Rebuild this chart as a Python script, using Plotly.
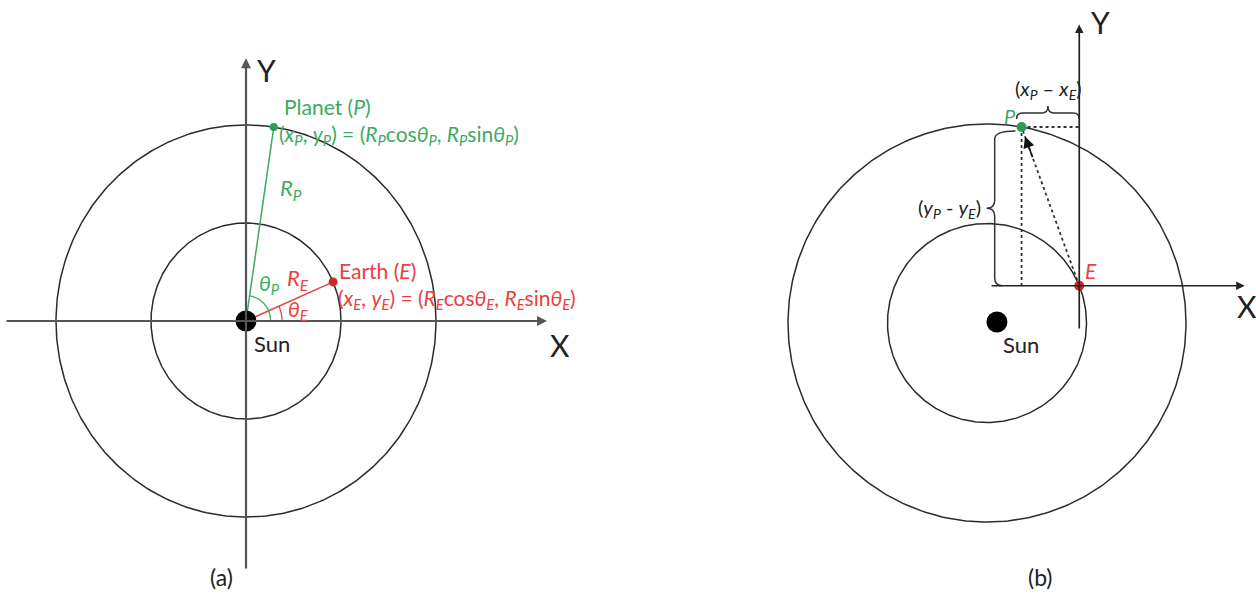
import numpy as np
import plotly.graph_objects as go

W, H = 1256, 597

# Orbit radii (Earth orbit = 1 unit)
R_E = 1.0
R_P = 2.0

# Panel (a): heliocentric angles in degrees
theta_E_a = 23.5
theta_P_a = 81.6

# Panel (b): heliocentric angles in degrees, Sun position
theta_E_b = 22.0
theta_P_b = 80.0
sun_b = (0.1, 0.01)

axis_names = ["X", "Y"]
panel_names = ["(a)", "(b)"]

GREEN = "#3daa63"
GREEN_DOT = "#2e9b57"
RED = "#e8413f"
RED_DOT = "#d2262b"
AXIS_GREY = "#555555"
INK = "#222222"
FONT = "Lato"

# Pixel frames of the two panels: origin pixel and pixels per unit
A = dict(ox=246, oy=321, kx=95.0, ky=98.0, px0=0, px1=620)
B = dict(ox=987, oy=323, kx=99.5, ky=99.5, px0=620, px1=W)


def ranges(f):
    xr = [(f["px0"] - f["ox"]) / f["kx"], (f["px1"] - f["ox"]) / f["kx"]]
    yr = [(f["oy"] - H) / f["ky"], f["oy"] / f["ky"]]
    return xr, yr


def polar(r, deg):
    t = np.radians(deg)
    return r * np.cos(t), r * np.sin(t)


def circle(r, n=361, cx=0.0, cy=0.0):
    t = np.linspace(0, 2 * np.pi, n)
    return cx + r * np.cos(t), cy + r * np.sin(t)


def arc(r, deg0, deg1, n=60):
    t = np.radians(np.linspace(deg0, deg1, n))
    return r * np.cos(t), r * np.sin(t)


def px(x):
    return x / W


def py(y):
    return 1 - y / H


fig = go.Figure()


def line(x, y, xa, ya, color, width=1.3, dash="solid"):
    fig.add_trace(go.Scatter(x=list(x), y=list(y), xaxis=xa, yaxis=ya, mode="lines",
                             line=dict(color=color, width=width, dash=dash),
                             hoverinfo="skip", showlegend=False))


def dot(x, y, xa, ya, color, size):
    fig.add_trace(go.Scatter(x=[x], y=[y], xaxis=xa, yaxis=ya, mode="markers",
                             marker=dict(color=color, size=size, line=dict(width=0)),
                             hoverinfo="skip", showlegend=False))


annotations = []


def arrow(x0, y0, x1, y1, xa, ya, color, width=2, size=1.0):
    annotations.append(dict(x=x1, y=y1, ax=x0, ay=y0, xref=xa, yref=ya,
                            axref=xa, ayref=ya, text="", showarrow=True,
                            arrowhead=2, arrowsize=size, arrowwidth=width,
                            arrowcolor=color, standoff=0, startstandoff=0))


def label(text, x, y, color=INK, size=22, anchor="left"):
    annotations.append(dict(x=px(x), y=py(y), xref="paper", yref="paper", text=text,
                            showarrow=False, xanchor=anchor, yanchor="middle",
                            borderpad=0, font=dict(family=FONT, size=size, color=color)))


# ---------------- Panel (a) ----------------
xa, ya = "x", "y"
for r in (R_E, R_P):
    cx, cy = circle(r)
    line(cx, cy, xa, ya, "#2b2b2b", 1.5)

xP, yP = polar(R_P, theta_P_a)
xE, yE = polar(R_E, theta_E_a)

# coordinate axes through the Sun
arrow(-2.537, 0, 3.168, 0, xa, ya, AXIS_GREY, 2.2, 0.9)
arrow(0, -2.54, 0, 2.68, xa, ya, AXIS_GREY, 2.2, 0.9)

line([0, xP], [0, yP], xa, ya, GREEN, 1.5)
line([0, xE], [0, yE], xa, ya, RED, 1.5)
gx, gy = arc(0.26, 0, theta_P_a)
line(gx, gy, xa, ya, GREEN, 1.3)
rx, ry = arc(0.38, 0, theta_E_a)
line(rx, ry, xa, ya, RED, 1.3)

dot(0, 0, xa, ya, "#000000", 21)
dot(xP, yP, xa, ya, GREEN_DOT, 8)
dot(xE, yE, xa, ya, RED_DOT, 9)

label("Planet (<i>P</i>)", 283, 107, GREEN, 21)
label("(<i>x<sub>P</sub></i>, <i>y<sub>P</sub></i>) = (<i>R<sub>P</sub></i>cos<i>θ<sub>P</sub></i>, "
      "<i>R<sub>P</sub></i>sin<i>θ<sub>P</sub></i>)", 278, 135, GREEN, 21)
label("<i>R<sub>P</sub></i>", 279, 189, GREEN, 22)
label("<i>θ<sub>P</sub></i>", 258, 284, GREEN, 21)
label("<i>R<sub>E</sub></i>", 286, 279, RED, 22)
label("<i>θ<sub>E</sub></i>", 287, 310, RED, 21)
label("Earth (<i>E</i>)", 338, 270, RED, 21)
label("(<i>x<sub>E</sub></i>, <i>y<sub>E</sub></i>) = (<i>R<sub>E</sub></i>cos<i>θ<sub>E</sub></i>, "
      "<i>R<sub>E</sub></i>sin<i>θ<sub>E</sub></i>)", 337, 299, RED, 21)
label("Sun", 253, 343, INK, 22)
label(axis_names[0], 560, 345, INK, 30, "center")
label(axis_names[1], 266, 70, INK, 30, "center")
label(panel_names[0], 221, 577, INK, 23, "center")

# ---------------- Panel (b) ----------------
xb, yb = "x2", "y2"
for r in (R_E, R_P):
    cx, cy = circle(r)
    line(cx, cy, xb, yb, "#2b2b2b", 1.5)

xP2, yP2 = polar(R_P, theta_P_b)
xE2, yE2 = polar(R_E, theta_E_b)
kx, ky = B["kx"], B["ky"]

# axes centred on Earth
arrow(0.03, yE2, 2.59, yE2, xb, yb, INK, 1.7, 1.0)
arrow(xE2, -0.07, xE2, 3.0, xb, yb, INK, 1.7, 1.0)

# projections and Earth->Planet vector
line([xP2, xE2], [yP2, yP2], xb, yb, "#333333", 1.8, "dot")
line([xP2, xP2], [yP2, yE2], xb, yb, "#333333", 1.8, "dot")
line([xE2, xP2], [yE2, yP2], xb, yb, "#333333", 1.8, "dot")
dvx, dvy = xP2 - xE2, yP2 - yE2
arrow(xP2 - 0.2 * dvx, yP2 - 0.2 * dvy, xP2 - 0.06 * dvx, yP2 - 0.06 * dvy,
      xb, yb, "#111111", 1.6, 1.4)


def hbrace(x0, x1, y, c=6, t=7):
    """Horizontal brace above a span, tip pointing up (sizes in pixels)."""
    cx, cy = c / kx, c / ky
    ty = t / ky
    xm = (x0 + x1) / 2
    return (f"M {x0},{y - cy} Q {x0},{y} {x0 + cx},{y} L {xm - cx},{y} "
            f"Q {xm},{y} {xm},{y + ty} Q {xm},{y} {xm + cx},{y} "
            f"L {x1 - cx},{y} Q {x1},{y} {x1},{y - cy}")


def vbrace(x, y0, y1, c=8, t=8):
    """Vertical brace left of a span, tip pointing left (sizes in pixels)."""
    cx, cy = c / kx, c / ky
    tx = t / kx
    ym = (y0 + y1) / 2
    return (f"M {x + 2.6 * cx},{y1} Q {x},{y1} {x},{y1 - cy} L {x},{ym + cy} "
            f"Q {x},{ym} {x - tx},{ym} Q {x},{ym} {x},{ym - cy} "
            f"L {x},{y0 + cy} Q {x},{y0} {x + cx},{y0}")


shapes = [
    dict(type="path", xref=xb, yref=yb, path=hbrace(xP2 - 0.05, xE2, yP2 + 0.14),
         line=dict(color="#333333", width=1.5)),
    dict(type="path", xref=xb, yref=yb, path=vbrace(xP2 - 0.27, yE2, yP2 - 0.04),
         line=dict(color="#333333", width=1.5)),
]

dot(sun_b[0], sun_b[1], xb, yb, "#000000", 21)
dot(xP2, yP2, xb, yb, GREEN_DOT, 10)
dot(xE2, yE2, xb, yb, RED_DOT, 10)

label("(<i>x<sub>P</sub></i> – <i>x<sub>E</sub></i>)", 1048, 90, INK, 20, "center")
label("(<i>y<sub>P</sub></i> - <i>y<sub>E</sub></i>)", 982, 208, INK, 20, "right")
label("<i>P</i>", 1010, 116, GREEN, 20, "center")
label("<i>E</i>", 1091, 270, RED, 21, "center")
label("Sun", 1002, 345, INK, 22)
label(axis_names[0], 1247, 306, INK, 30, "center")
label(axis_names[1], 1100, 22, INK, 30, "center")
label(panel_names[1], 1040, 577, INK, 23, "center")

xra, yra = ranges(A)
xrb, yrb = ranges(B)
hidden = dict(visible=False, showgrid=False, zeroline=False, fixedrange=True)

fig.update_layout(
    width=W, height=H,
    margin=dict(l=0, r=0, t=0, b=0),
    paper_bgcolor="white", plot_bgcolor="white",
    showlegend=False,
    xaxis=dict(domain=[A["px0"] / W, A["px1"] / W], range=xra, **hidden),
    yaxis=dict(domain=[0, 1], range=yra, **hidden),
    xaxis2=dict(domain=[B["px0"] / W, B["px1"] / W], range=xrb, anchor="y2", **hidden),
    yaxis2=dict(domain=[0, 1], range=yrb, anchor="x2", **hidden),
    annotations=annotations,
    shapes=shapes,
)

fig.write_html("out.html")
